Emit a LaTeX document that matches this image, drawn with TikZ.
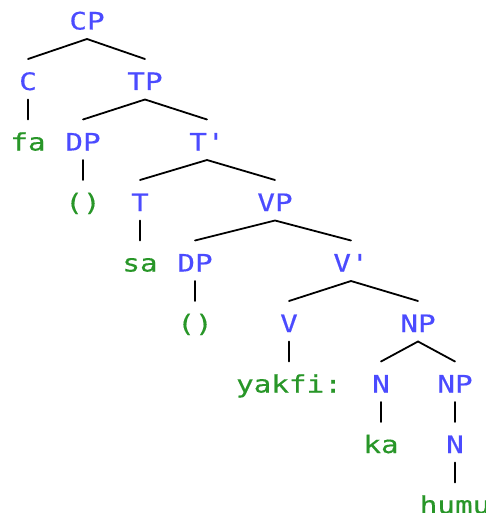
\documentclass[tikz,border=0pt]{standalone}
\usepackage{fontspec}
\newfontfamily\treefont[FakeStretch=1.22,FakeBold=0.5]{DejaVu Sans Mono}
\definecolor{catblue}{RGB}{75,75,255}
\definecolor{wordgreen}{RGB}{40,150,40}
\begin{document}
\begin{tikzpicture}[x=1pt,y=-1pt,
  lab/.style={inner sep=0pt, outer sep=0pt, text height=31pt, text depth=9.5pt,
    anchor=base, font=\treefont\fontsize{24}{26}\selectfont},
  cat/.style={lab, text=catblue},
  word/.style={lab, text=wordgreen},
  branch/.style={line width=1.8pt, line cap=round}]
\useasboundingbox (0,0) rectangle (486,513);

% categories and words, row by row
\node[cat]  (cp)    at (87,29.5)   {CP};
\node[cat]  (c)     at (28,90)     {C};
\node[cat]  (tp)    at (145,90)    {TP};
\node[word] (fa)    at (28,150.5)  {fa};
\node[cat]  (dp1)   at (83,150.5)  {DP};
\node[cat]  (tbar)  at (207,150.5) {T'};
\node[word] (e1)    at (83,211)    {()};
\node[cat]  (t)     at (140,211)   {T};
\node[cat]  (vp)    at (275,211)   {VP};
\node[word] (sa)    at (140,271.5) {sa};
\node[cat]  (dp2)   at (195,271.5) {DP};
\node[cat]  (vbar)  at (351,271.5) {V'};
\node[word] (e2)    at (195,332)   {()};
\node[cat]  (v)     at (289,332)   {V};
\node[cat]  (np1)   at (418,332)   {NP};
\node[word] (yakfi) at (289,392.5) {yakfi:};
\node[cat]  (n1)    at (381,392.5) {N};
\node[cat]  (np2)   at (455,392.5) {NP};
\node[word] (ka)    at (381,453)   {ka};
\node[cat]  (n2)    at (455,453)   {N};
\node[word] (humu)  at (455,513.5) {humu};

% branches
\draw[branch] (c.north) -- (cp.south) -- (tp.north);
\draw[branch] (c.south) -- (fa.north);
\draw[branch] (dp1.north) -- (tp.south) -- (tbar.north);
\draw[branch] (dp1.south) -- (e1.north);
\draw[branch] (t.north) -- (tbar.south) -- (vp.north);
\draw[branch] (t.south) -- (sa.north);
\draw[branch] (dp2.north) -- (vp.south) -- (vbar.north);
\draw[branch] (dp2.south) -- (e2.north);
\draw[branch] (v.north) -- (vbar.south) -- (np1.north);
\draw[branch] (v.south) -- (yakfi.north);
\draw[branch] (n1.north) -- (np1.south) -- (np2.north);
\draw[branch] (n1.south) -- (ka.north);
\draw[branch] (np2.south) -- (n2.north);
\draw[branch] (n2.south) -- (humu.north);
\end{tikzpicture}
\end{document}
